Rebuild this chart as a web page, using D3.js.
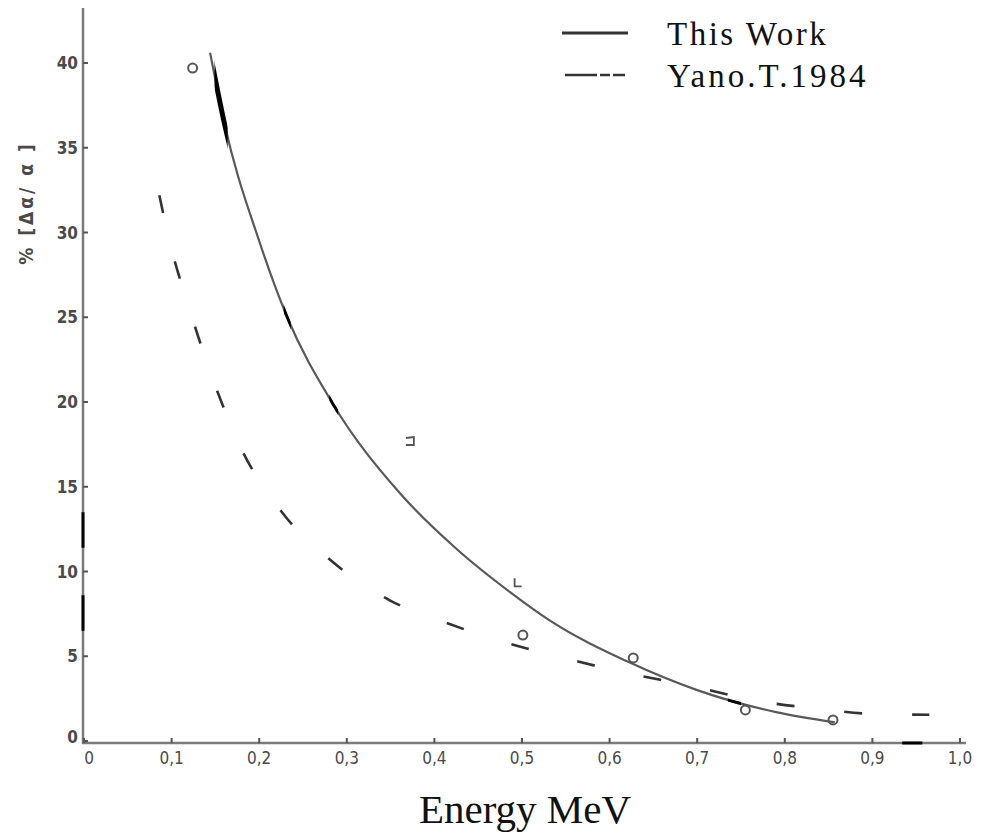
<!DOCTYPE html>
<html>
<head>
<meta charset="utf-8">
<script src="https://cdn.jsdelivr.net/npm/d3@7"></script>
<style>
  body { margin: 0; background: #fff; }
  svg { display: block; }
</style>
</head>
<body>
<svg width="982" height="837"></svg>
<script>
// this work: fitted curve
const workEnergy = [0.144, 0.16, 0.2, 0.232, 0.284, 0.361, 0.426, 0.486, 0.532, 0.62, 0.70, 0.79, 0.857];
const workValue = [40.6, 36.5, 29.5, 25.0, 19.9, 14.6, 11.3, 8.8, 7.1, 4.7, 3.0, 1.7, 1.1];

// Yano.T.1984 dashed curve
const yanoEnergy = [0.086, 0.098, 0.119, 0.146, 0.179, 0.226, 0.283, 0.349, 0.412, 0.469, 0.54, 0.612, 0.688, 0.777, 0.838, 0.90, 0.965];
const yanoValue = [32.2, 29.4, 25.7, 21.5, 17.3, 13.5, 10.6, 8.3, 7.0, 6.0, 5.0, 4.1, 3.3, 2.3, 1.9, 1.6, 1.55];

// measured points
const pointEnergy = [0.124, 0.372, 0.495, 0.501, 0.627, 0.755, 0.855];
const pointValue = [39.7, 17.7, 9.3, 6.25, 4.9, 1.83, 1.24];
const pointShape = ['circle', 'square', 'corner', 'circle', 'circle', 'circle', 'circle'];

const xTicks = [0, 0.1, 0.2, 0.3, 0.4, 0.5, 0.6, 0.7, 0.8, 0.9, 1.0];
const xTickLabels = ['0', '0,1', '0,2', '0,3', '0,4', '0,5', '0,6', '0,7', '0,8', '0,9', '1,0'];
const yTicks = [0, 5, 10, 15, 20, 25, 30, 35, 40];

const legendNames = ['This Work', 'Yano.T.1984'];

const svg = d3.select('svg');

const x = d3.scaleLinear().domain([0, 1]).range([84, 960]);
const y = d3.scaleLinear().domain([0, 40]).range([741, 63]);

const axisColor = '#7a7a7a';
const labelColor = '#4a4a4a';

// axes lines
svg.append('line')
  .attr('x1', 83).attr('x2', 83).attr('y1', 8).attr('y2', 744)
  .attr('stroke', axisColor).attr('stroke-width', 2.5);
svg.append('line')
  .attr('x1', 82).attr('x2', 966).attr('y1', 743).attr('y2', 743)
  .attr('stroke', axisColor).attr('stroke-width', 2.5);

// dark smudges on the axes
const ySmudges = [[11.4, 13.5], [6.5, 8.6]];
ySmudges.forEach((s) => {
  svg.append('line')
    .attr('x1', 83).attr('x2', 83)
    .attr('y1', y(s[0])).attr('y2', y(s[1]))
    .attr('stroke', '#000').attr('stroke-width', 3);
});
svg.append('line')
  .attr('x1', x(0.934)).attr('x2', x(0.957))
  .attr('y1', 743).attr('y2', 743)
  .attr('stroke', '#000').attr('stroke-width', 3);

// y ticks
svg.selectAll('.ytick')
  .data(yTicks)
  .enter()
  .append('line')
  .attr('class', 'ytick')
  .attr('x1', 83).attr('x2', 88)
  .attr('y1', (d) => y(d)).attr('y2', (d) => y(d))
  .attr('stroke', '#555').attr('stroke-width', 2);

svg.selectAll('.ylabel')
  .data(yTicks)
  .enter()
  .append('text')
  .attr('class', 'ylabel')
  .attr('x', 78)
  .attr('y', (d) => (d === 0 ? y(d) - 4 : y(d)))
  .attr('dy', '0.36em')
  .attr('text-anchor', 'end')
  .attr('font-family', 'DejaVu Sans Condensed, DejaVu Sans')
  .attr('font-weight', 'bold')
  .attr('font-size', 17)
  .attr('fill', labelColor)
  .text((d) => d);

// x ticks
svg.selectAll('.xtick')
  .data(xTicks)
  .enter()
  .append('line')
  .attr('class', 'xtick')
  .attr('x1', (d) => x(d)).attr('x2', (d) => x(d))
  .attr('y1', 743).attr('y2', 738)
  .attr('stroke', '#555').attr('stroke-width', 2);

svg.selectAll('.xlabel')
  .data(xTicks)
  .enter()
  .append('text')
  .attr('class', 'xlabel')
  .attr('x', (d) => x(d) + (d === 0 ? 5 : 0))
  .attr('y', 764)
  .attr('text-anchor', 'middle')
  .attr('font-family', 'DejaVu Sans Condensed, DejaVu Sans')
  .attr('font-size', 17)
  .attr('fill', labelColor)
  .text((d, i) => xTickLabels[i]);

// axis titles
svg.append('text')
  .attr('x', 525)
  .attr('y', 823)
  .attr('text-anchor', 'middle')
  .attr('font-family', 'Liberation Serif, Times New Roman, serif')
  .attr('font-size', 41)
  .attr('fill', '#111')
  .text('Energy MeV');

svg.append('text')
  .attr('transform', 'translate(33,203) rotate(-90)')
  .attr('text-anchor', 'middle')
  .attr('font-family', 'DejaVu Sans Condensed, DejaVu Sans')
  .attr('font-weight', 'bold')
  .attr('font-size', 19)
  .attr('letter-spacing', 3)
  .attr('fill', labelColor)
  .text('% [Δα/ α ]');

// curves
const line = d3.line()
  .x((d) => x(d[0]))
  .y((d) => y(d[1]))
  .curve(d3.curveMonotoneX);

const workData = workEnergy.map((e, i) => [e, workValue[i]]);
const yanoData = yanoEnergy.map((e, i) => [e, yanoValue[i]]);

svg.append('path')
  .attr('d', line(workData))
  .attr('fill', 'none')
  .attr('stroke', '#595959')
  .attr('stroke-width', 2.2);

// darker ink spots along the fitted curve
const inkRanges = [[0.149, 0.164], [0.228, 0.236], [0.28, 0.29], [0.735, 0.75]];
const defs = svg.append('defs');
inkRanges.forEach((r, i) => {
  defs.append('clipPath')
    .attr('id', 'ink' + i)
    .append('rect')
    .attr('x', x(r[0])).attr('width', x(r[1]) - x(r[0]))
    .attr('y', 0).attr('height', 837);
  svg.append('path')
    .attr('d', line(workData))
    .attr('clip-path', 'url(#ink' + i + ')')
    .attr('fill', 'none')
    .attr('stroke', '#000')
    .attr('stroke-width', i === 0 ? 5 : 3);
});

svg.append('path')
  .attr('d', line(yanoData))
  .attr('fill', 'none')
  .attr('stroke', '#333')
  .attr('stroke-width', 2.6)
  .attr('stroke-dasharray', '18,50');

// markers
const points = pointEnergy.map((e, i) => ({ e: e, v: pointValue[i], shape: pointShape[i] }));
points.forEach((p) => {
  const cx = x(p.e);
  const cy = y(p.v);
  if (p.shape === 'circle') {
    svg.append('circle')
      .attr('cx', cx).attr('cy', cy).attr('r', 4.5)
      .attr('fill', 'none').attr('stroke', '#555').attr('stroke-width', 2);
  } else if (p.shape === 'square') {
    svg.append('path')
      .attr('d', `M${cx - 4},${cy - 3} L${cx + 4},${cy - 4} L${cx + 4},${cy + 4} L${cx - 4},${cy + 4}`)
      .attr('fill', 'none').attr('stroke', '#555').attr('stroke-width', 1.8);
  } else {
    svg.append('path')
      .attr('d', `M${cx - 3},${cy - 5} L${cx - 3},${cy + 3} L${cx + 4},${cy + 3}`)
      .attr('fill', 'none').attr('stroke', '#555').attr('stroke-width', 1.8);
  }
});

// legend
const legend = svg.append('g');
legend.append('line')
  .attr('x1', 562).attr('x2', 628).attr('y1', 33).attr('y2', 33)
  .attr('stroke', '#333').attr('stroke-width', 3);
legend.append('line')
  .attr('x1', 565).attr('x2', 625).attr('y1', 75).attr('y2', 75)
  .attr('stroke', '#333').attr('stroke-width', 2.5)
  .attr('stroke-dasharray', '32,3,10,3,12');

legend.selectAll('text')
  .data(legendNames)
  .enter()
  .append('text')
  .attr('x', 667)
  .attr('y', (d, i) => 45 + i * 42)
  .attr('font-family', 'Liberation Serif, Times New Roman, serif')
  .attr('font-size', 33)
  .attr('letter-spacing', (d, i) => (i === 0 ? 2.5 : 3))
  .attr('fill', '#111')
  .text((d) => d);
</script>
</body>
</html>
